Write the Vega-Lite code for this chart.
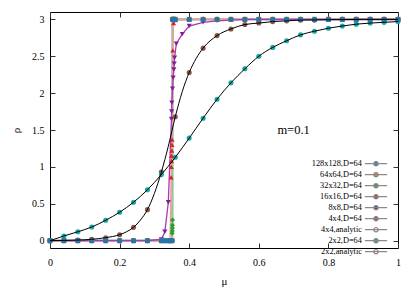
{
  "$schema": "https://vega.github.io/schema/vega-lite/v6.json",
  "width": 348,
  "height": 236,
  "autosize": {"type": "none"},
  "padding": {"left": 50, "top": 12, "right": 17, "bottom": 43},
  "config": {
    "view": {"stroke": "#000", "strokeWidth": 1},
    "font": "Liberation Serif",
    "axis": {"labelFont": "Liberation Serif", "titleFont": "Liberation Serif", "labelColor": "#000", "titleColor": "#000", "tickColor": "#333", "titleFontWeight": "normal", "grid": false, "domain": false, "labelFlush": false}
  },
  "datasets": {"d": [
    {"series": "64x64,D=64", "mu": 0, "rho": 0},
    {"series": "64x64,D=64", "mu": 0.04, "rho": 0},
    {"series": "64x64,D=64", "mu": 0.08, "rho": 0},
    {"series": "64x64,D=64", "mu": 0.12, "rho": 0},
    {"series": "64x64,D=64", "mu": 0.16, "rho": 0},
    {"series": "64x64,D=64", "mu": 0.2, "rho": 0},
    {"series": "64x64,D=64", "mu": 0.24, "rho": 0},
    {"series": "64x64,D=64", "mu": 0.28, "rho": 0},
    {"series": "64x64,D=64", "mu": 0.32, "rho": 0},
    {"series": "64x64,D=64", "mu": 0.33, "rho": 0},
    {"series": "64x64,D=64", "mu": 0.34, "rho": 0},
    {"series": "64x64,D=64", "mu": 0.346, "rho": 0},
    {"series": "64x64,D=64", "mu": 0.351, "rho": 0},
    {"series": "64x64,D=64", "mu": 0.352, "rho": 3},
    {"series": "64x64,D=64", "mu": 0.354, "rho": 3},
    {"series": "64x64,D=64", "mu": 0.356, "rho": 3},
    {"series": "64x64,D=64", "mu": 0.36, "rho": 3},
    {"series": "64x64,D=64", "mu": 0.4, "rho": 3},
    {"series": "64x64,D=64", "mu": 0.44, "rho": 3},
    {"series": "64x64,D=64", "mu": 0.48, "rho": 3},
    {"series": "64x64,D=64", "mu": 0.52, "rho": 3},
    {"series": "64x64,D=64", "mu": 0.56, "rho": 3},
    {"series": "64x64,D=64", "mu": 0.6, "rho": 3},
    {"series": "64x64,D=64", "mu": 0.64, "rho": 3},
    {"series": "64x64,D=64", "mu": 0.68, "rho": 3},
    {"series": "64x64,D=64", "mu": 0.72, "rho": 3},
    {"series": "64x64,D=64", "mu": 0.76, "rho": 3},
    {"series": "64x64,D=64", "mu": 0.8, "rho": 3},
    {"series": "64x64,D=64", "mu": 0.84, "rho": 3},
    {"series": "64x64,D=64", "mu": 0.88, "rho": 3},
    {"series": "64x64,D=64", "mu": 0.92, "rho": 3},
    {"series": "64x64,D=64", "mu": 0.96, "rho": 3},
    {"series": "64x64,D=64", "mu": 1, "rho": 3},
    {"series": "128x128,D=64", "mu": 0, "rho": 0},
    {"series": "128x128,D=64", "mu": 0.04, "rho": 0},
    {"series": "128x128,D=64", "mu": 0.08, "rho": 0},
    {"series": "128x128,D=64", "mu": 0.12, "rho": 0},
    {"series": "128x128,D=64", "mu": 0.16, "rho": 0},
    {"series": "128x128,D=64", "mu": 0.2, "rho": 0},
    {"series": "128x128,D=64", "mu": 0.24, "rho": 0},
    {"series": "128x128,D=64", "mu": 0.28, "rho": 0},
    {"series": "128x128,D=64", "mu": 0.32, "rho": 0},
    {"series": "128x128,D=64", "mu": 0.33, "rho": 0},
    {"series": "128x128,D=64", "mu": 0.34, "rho": 0},
    {"series": "128x128,D=64", "mu": 0.346, "rho": 0},
    {"series": "128x128,D=64", "mu": 0.351, "rho": 0},
    {"series": "128x128,D=64", "mu": 0.352, "rho": 3},
    {"series": "128x128,D=64", "mu": 0.354, "rho": 3},
    {"series": "128x128,D=64", "mu": 0.356, "rho": 3},
    {"series": "128x128,D=64", "mu": 0.36, "rho": 3},
    {"series": "128x128,D=64", "mu": 0.4, "rho": 3},
    {"series": "128x128,D=64", "mu": 0.44, "rho": 3},
    {"series": "128x128,D=64", "mu": 0.48, "rho": 3},
    {"series": "128x128,D=64", "mu": 0.52, "rho": 3},
    {"series": "128x128,D=64", "mu": 0.56, "rho": 3},
    {"series": "128x128,D=64", "mu": 0.6, "rho": 3},
    {"series": "128x128,D=64", "mu": 0.64, "rho": 3},
    {"series": "128x128,D=64", "mu": 0.68, "rho": 3},
    {"series": "128x128,D=64", "mu": 0.72, "rho": 3},
    {"series": "128x128,D=64", "mu": 0.76, "rho": 3},
    {"series": "128x128,D=64", "mu": 0.8, "rho": 3},
    {"series": "128x128,D=64", "mu": 0.84, "rho": 3},
    {"series": "128x128,D=64", "mu": 0.88, "rho": 3},
    {"series": "128x128,D=64", "mu": 0.92, "rho": 3},
    {"series": "128x128,D=64", "mu": 0.96, "rho": 3},
    {"series": "128x128,D=64", "mu": 1, "rho": 3},
    {"series": "32x32,D=64", "mu": 0, "rho": 0},
    {"series": "32x32,D=64", "mu": 0.04, "rho": 0},
    {"series": "32x32,D=64", "mu": 0.08, "rho": 0},
    {"series": "32x32,D=64", "mu": 0.12, "rho": 0},
    {"series": "32x32,D=64", "mu": 0.16, "rho": 0},
    {"series": "32x32,D=64", "mu": 0.2, "rho": 0},
    {"series": "32x32,D=64", "mu": 0.24, "rho": 0},
    {"series": "32x32,D=64", "mu": 0.28, "rho": 0},
    {"series": "32x32,D=64", "mu": 0.32, "rho": 0},
    {"series": "32x32,D=64", "mu": 0.33, "rho": 0},
    {"series": "32x32,D=64", "mu": 0.34, "rho": 0},
    {"series": "32x32,D=64", "mu": 0.346, "rho": 0},
    {"series": "32x32,D=64", "mu": 0.35, "rho": 0},
    {"series": "32x32,D=64", "mu": 0.351, "rho": 0.1},
    {"series": "32x32,D=64", "mu": 0.3513, "rho": 0.13},
    {"series": "32x32,D=64", "mu": 0.3516, "rho": 0.17},
    {"series": "32x32,D=64", "mu": 0.3519, "rho": 0.21},
    {"series": "32x32,D=64", "mu": 0.3522, "rho": 0.28},
    {"series": "32x32,D=64", "mu": 0.353, "rho": 3},
    {"series": "32x32,D=64", "mu": 0.356, "rho": 3},
    {"series": "32x32,D=64", "mu": 0.36, "rho": 3},
    {"series": "32x32,D=64", "mu": 0.4, "rho": 3},
    {"series": "32x32,D=64", "mu": 0.44, "rho": 3},
    {"series": "32x32,D=64", "mu": 0.48, "rho": 3},
    {"series": "32x32,D=64", "mu": 0.52, "rho": 3},
    {"series": "32x32,D=64", "mu": 0.56, "rho": 3},
    {"series": "32x32,D=64", "mu": 0.6, "rho": 3},
    {"series": "32x32,D=64", "mu": 0.64, "rho": 3},
    {"series": "32x32,D=64", "mu": 0.68, "rho": 3},
    {"series": "32x32,D=64", "mu": 0.72, "rho": 3},
    {"series": "32x32,D=64", "mu": 0.76, "rho": 3},
    {"series": "32x32,D=64", "mu": 0.8, "rho": 3},
    {"series": "32x32,D=64", "mu": 0.84, "rho": 3},
    {"series": "32x32,D=64", "mu": 0.88, "rho": 3},
    {"series": "32x32,D=64", "mu": 0.92, "rho": 3},
    {"series": "32x32,D=64", "mu": 0.96, "rho": 3},
    {"series": "32x32,D=64", "mu": 1, "rho": 3},
    {"series": "16x16,D=64", "mu": 0, "rho": 0},
    {"series": "16x16,D=64", "mu": 0.04, "rho": 0},
    {"series": "16x16,D=64", "mu": 0.08, "rho": 0},
    {"series": "16x16,D=64", "mu": 0.12, "rho": 0},
    {"series": "16x16,D=64", "mu": 0.16, "rho": 0},
    {"series": "16x16,D=64", "mu": 0.2, "rho": 0},
    {"series": "16x16,D=64", "mu": 0.24, "rho": 0},
    {"series": "16x16,D=64", "mu": 0.28, "rho": 0},
    {"series": "16x16,D=64", "mu": 0.32, "rho": 0},
    {"series": "16x16,D=64", "mu": 0.33, "rho": 0},
    {"series": "16x16,D=64", "mu": 0.34, "rho": 0},
    {"series": "16x16,D=64", "mu": 0.345, "rho": 0.005},
    {"series": "16x16,D=64", "mu": 0.348, "rho": 0.86},
    {"series": "16x16,D=64", "mu": 0.3485, "rho": 1.0},
    {"series": "16x16,D=64", "mu": 0.349, "rho": 1.08},
    {"series": "16x16,D=64", "mu": 0.3495, "rho": 1.15},
    {"series": "16x16,D=64", "mu": 0.35, "rho": 1.22},
    {"series": "16x16,D=64", "mu": 0.3505, "rho": 1.3},
    {"series": "16x16,D=64", "mu": 0.351, "rho": 1.37},
    {"series": "16x16,D=64", "mu": 0.353, "rho": 2.58},
    {"series": "16x16,D=64", "mu": 0.355, "rho": 2.95},
    {"series": "16x16,D=64", "mu": 0.36, "rho": 2.99},
    {"series": "16x16,D=64", "mu": 0.4, "rho": 3},
    {"series": "16x16,D=64", "mu": 0.44, "rho": 3},
    {"series": "16x16,D=64", "mu": 0.48, "rho": 3},
    {"series": "16x16,D=64", "mu": 0.52, "rho": 3},
    {"series": "16x16,D=64", "mu": 0.56, "rho": 3},
    {"series": "16x16,D=64", "mu": 0.6, "rho": 3},
    {"series": "16x16,D=64", "mu": 0.64, "rho": 3},
    {"series": "16x16,D=64", "mu": 0.68, "rho": 3},
    {"series": "16x16,D=64", "mu": 0.72, "rho": 3},
    {"series": "16x16,D=64", "mu": 0.76, "rho": 3},
    {"series": "16x16,D=64", "mu": 0.8, "rho": 3},
    {"series": "16x16,D=64", "mu": 0.84, "rho": 3},
    {"series": "16x16,D=64", "mu": 0.88, "rho": 3},
    {"series": "16x16,D=64", "mu": 0.92, "rho": 3},
    {"series": "16x16,D=64", "mu": 0.96, "rho": 3},
    {"series": "16x16,D=64", "mu": 1, "rho": 3},
    {"series": "8x8,D=64", "mu": 0, "rho": 0},
    {"series": "8x8,D=64", "mu": 0.04, "rho": 0},
    {"series": "8x8,D=64", "mu": 0.08, "rho": 0},
    {"series": "8x8,D=64", "mu": 0.12, "rho": 0},
    {"series": "8x8,D=64", "mu": 0.16, "rho": 0},
    {"series": "8x8,D=64", "mu": 0.2, "rho": 0},
    {"series": "8x8,D=64", "mu": 0.24, "rho": 0},
    {"series": "8x8,D=64", "mu": 0.28, "rho": 0.002},
    {"series": "8x8,D=64", "mu": 0.32, "rho": 0.015},
    {"series": "8x8,D=64", "mu": 0.33, "rho": 0.12},
    {"series": "8x8,D=64", "mu": 0.34, "rho": 0.52},
    {"series": "8x8,D=64", "mu": 0.349, "rho": 1.65},
    {"series": "8x8,D=64", "mu": 0.3495, "rho": 1.75},
    {"series": "8x8,D=64", "mu": 0.35, "rho": 1.87},
    {"series": "8x8,D=64", "mu": 0.352, "rho": 2.06},
    {"series": "8x8,D=64", "mu": 0.354, "rho": 2.21},
    {"series": "8x8,D=64", "mu": 0.356, "rho": 2.32},
    {"series": "8x8,D=64", "mu": 0.357, "rho": 2.4},
    {"series": "8x8,D=64", "mu": 0.358, "rho": 2.48},
    {"series": "8x8,D=64", "mu": 0.363, "rho": 2.67},
    {"series": "8x8,D=64", "mu": 0.38, "rho": 2.8},
    {"series": "8x8,D=64", "mu": 0.4, "rho": 2.91},
    {"series": "8x8,D=64", "mu": 0.44, "rho": 2.96},
    {"series": "8x8,D=64", "mu": 0.48, "rho": 2.98},
    {"series": "8x8,D=64", "mu": 0.52, "rho": 2.99},
    {"series": "8x8,D=64", "mu": 0.56, "rho": 3},
    {"series": "8x8,D=64", "mu": 0.6, "rho": 3},
    {"series": "8x8,D=64", "mu": 0.64, "rho": 3},
    {"series": "8x8,D=64", "mu": 0.68, "rho": 3},
    {"series": "8x8,D=64", "mu": 0.72, "rho": 3},
    {"series": "8x8,D=64", "mu": 0.76, "rho": 3},
    {"series": "8x8,D=64", "mu": 0.8, "rho": 3},
    {"series": "8x8,D=64", "mu": 0.84, "rho": 3},
    {"series": "8x8,D=64", "mu": 0.88, "rho": 3},
    {"series": "8x8,D=64", "mu": 0.92, "rho": 3},
    {"series": "8x8,D=64", "mu": 0.96, "rho": 3},
    {"series": "8x8,D=64", "mu": 1, "rho": 3},
    {"series": "4x4,D=64", "mu": 0, "rho": 0},
    {"series": "4x4,D=64", "mu": 0.04, "rho": 0.003},
    {"series": "4x4,D=64", "mu": 0.08, "rho": 0.008},
    {"series": "4x4,D=64", "mu": 0.12, "rho": 0.018},
    {"series": "4x4,D=64", "mu": 0.16, "rho": 0.04},
    {"series": "4x4,D=64", "mu": 0.2, "rho": 0.08},
    {"series": "4x4,D=64", "mu": 0.24, "rho": 0.18},
    {"series": "4x4,D=64", "mu": 0.28, "rho": 0.42},
    {"series": "4x4,D=64", "mu": 0.32, "rho": 0.93},
    {"series": "4x4,D=64", "mu": 0.36, "rho": 1.68},
    {"series": "4x4,D=64", "mu": 0.4, "rho": 2.28},
    {"series": "4x4,D=64", "mu": 0.44, "rho": 2.61},
    {"series": "4x4,D=64", "mu": 0.48, "rho": 2.78},
    {"series": "4x4,D=64", "mu": 0.52, "rho": 2.87},
    {"series": "4x4,D=64", "mu": 0.56, "rho": 2.93},
    {"series": "4x4,D=64", "mu": 0.6, "rho": 2.95},
    {"series": "4x4,D=64", "mu": 0.64, "rho": 2.97},
    {"series": "4x4,D=64", "mu": 0.68, "rho": 2.98},
    {"series": "4x4,D=64", "mu": 0.72, "rho": 2.99},
    {"series": "4x4,D=64", "mu": 0.76, "rho": 2.99},
    {"series": "4x4,D=64", "mu": 0.8, "rho": 3},
    {"series": "4x4,D=64", "mu": 0.84, "rho": 3},
    {"series": "4x4,D=64", "mu": 0.88, "rho": 3},
    {"series": "4x4,D=64", "mu": 0.92, "rho": 3},
    {"series": "4x4,D=64", "mu": 0.96, "rho": 3},
    {"series": "4x4,D=64", "mu": 1, "rho": 3},
    {"series": "4x4,analytic", "mu": 0, "rho": 0},
    {"series": "4x4,analytic", "mu": 0.04, "rho": 0.003},
    {"series": "4x4,analytic", "mu": 0.08, "rho": 0.008},
    {"series": "4x4,analytic", "mu": 0.12, "rho": 0.018},
    {"series": "4x4,analytic", "mu": 0.16, "rho": 0.04},
    {"series": "4x4,analytic", "mu": 0.2, "rho": 0.08},
    {"series": "4x4,analytic", "mu": 0.22, "rho": 0.12},
    {"series": "4x4,analytic", "mu": 0.24, "rho": 0.18},
    {"series": "4x4,analytic", "mu": 0.26, "rho": 0.28},
    {"series": "4x4,analytic", "mu": 0.28, "rho": 0.42},
    {"series": "4x4,analytic", "mu": 0.3, "rho": 0.64},
    {"series": "4x4,analytic", "mu": 0.32, "rho": 0.93},
    {"series": "4x4,analytic", "mu": 0.34, "rho": 1.28},
    {"series": "4x4,analytic", "mu": 0.36, "rho": 1.68},
    {"series": "4x4,analytic", "mu": 0.38, "rho": 2.02},
    {"series": "4x4,analytic", "mu": 0.4, "rho": 2.28},
    {"series": "4x4,analytic", "mu": 0.42, "rho": 2.47},
    {"series": "4x4,analytic", "mu": 0.44, "rho": 2.61},
    {"series": "4x4,analytic", "mu": 0.48, "rho": 2.78},
    {"series": "4x4,analytic", "mu": 0.52, "rho": 2.87},
    {"series": "4x4,analytic", "mu": 0.56, "rho": 2.93},
    {"series": "4x4,analytic", "mu": 0.6, "rho": 2.95},
    {"series": "4x4,analytic", "mu": 0.64, "rho": 2.97},
    {"series": "4x4,analytic", "mu": 0.68, "rho": 2.98},
    {"series": "4x4,analytic", "mu": 0.72, "rho": 2.99},
    {"series": "4x4,analytic", "mu": 0.8, "rho": 2.995},
    {"series": "4x4,analytic", "mu": 0.9, "rho": 3},
    {"series": "4x4,analytic", "mu": 1, "rho": 3},
    {"series": "2x2,D=64", "mu": 0, "rho": 0},
    {"series": "2x2,D=64", "mu": 0.04, "rho": 0.063},
    {"series": "2x2,D=64", "mu": 0.08, "rho": 0.12},
    {"series": "2x2,D=64", "mu": 0.12, "rho": 0.185},
    {"series": "2x2,D=64", "mu": 0.16, "rho": 0.276},
    {"series": "2x2,D=64", "mu": 0.2, "rho": 0.385},
    {"series": "2x2,D=64", "mu": 0.24, "rho": 0.52},
    {"series": "2x2,D=64", "mu": 0.28, "rho": 0.69},
    {"series": "2x2,D=64", "mu": 0.32, "rho": 0.895},
    {"series": "2x2,D=64", "mu": 0.36, "rho": 1.13},
    {"series": "2x2,D=64", "mu": 0.4, "rho": 1.39},
    {"series": "2x2,D=64", "mu": 0.44, "rho": 1.66},
    {"series": "2x2,D=64", "mu": 0.48, "rho": 1.917},
    {"series": "2x2,D=64", "mu": 0.52, "rho": 2.14},
    {"series": "2x2,D=64", "mu": 0.56, "rho": 2.33},
    {"series": "2x2,D=64", "mu": 0.6, "rho": 2.5},
    {"series": "2x2,D=64", "mu": 0.64, "rho": 2.62},
    {"series": "2x2,D=64", "mu": 0.68, "rho": 2.71},
    {"series": "2x2,D=64", "mu": 0.72, "rho": 2.79},
    {"series": "2x2,D=64", "mu": 0.76, "rho": 2.84},
    {"series": "2x2,D=64", "mu": 0.8, "rho": 2.88},
    {"series": "2x2,D=64", "mu": 0.84, "rho": 2.91},
    {"series": "2x2,D=64", "mu": 0.88, "rho": 2.935},
    {"series": "2x2,D=64", "mu": 0.92, "rho": 2.95},
    {"series": "2x2,D=64", "mu": 0.96, "rho": 2.96},
    {"series": "2x2,D=64", "mu": 1, "rho": 2.97},
    {"series": "2x2,analytic", "mu": 0, "rho": 0},
    {"series": "2x2,analytic", "mu": 0.04, "rho": 0.063},
    {"series": "2x2,analytic", "mu": 0.08, "rho": 0.12},
    {"series": "2x2,analytic", "mu": 0.12, "rho": 0.185},
    {"series": "2x2,analytic", "mu": 0.16, "rho": 0.276},
    {"series": "2x2,analytic", "mu": 0.2, "rho": 0.385},
    {"series": "2x2,analytic", "mu": 0.24, "rho": 0.52},
    {"series": "2x2,analytic", "mu": 0.28, "rho": 0.69},
    {"series": "2x2,analytic", "mu": 0.32, "rho": 0.895},
    {"series": "2x2,analytic", "mu": 0.36, "rho": 1.13},
    {"series": "2x2,analytic", "mu": 0.4, "rho": 1.39},
    {"series": "2x2,analytic", "mu": 0.44, "rho": 1.66},
    {"series": "2x2,analytic", "mu": 0.48, "rho": 1.917},
    {"series": "2x2,analytic", "mu": 0.52, "rho": 2.14},
    {"series": "2x2,analytic", "mu": 0.56, "rho": 2.33},
    {"series": "2x2,analytic", "mu": 0.6, "rho": 2.5},
    {"series": "2x2,analytic", "mu": 0.64, "rho": 2.62},
    {"series": "2x2,analytic", "mu": 0.68, "rho": 2.71},
    {"series": "2x2,analytic", "mu": 0.72, "rho": 2.79},
    {"series": "2x2,analytic", "mu": 0.76, "rho": 2.84},
    {"series": "2x2,analytic", "mu": 0.8, "rho": 2.88},
    {"series": "2x2,analytic", "mu": 0.84, "rho": 2.91},
    {"series": "2x2,analytic", "mu": 0.88, "rho": 2.935},
    {"series": "2x2,analytic", "mu": 0.92, "rho": 2.95},
    {"series": "2x2,analytic", "mu": 0.96, "rho": 2.96},
    {"series": "2x2,analytic", "mu": 1, "rho": 2.97}
  ]},
  "data": {"name": "d"},
  "resolve": {"axis": {"x": "independent", "y": "independent"}},
  "layer": [
    {
      "transform": [{"filter": {"field": "series", "equal": "128x128,D=64"}}],
      "mark": {"type": "line", "interpolate": "linear", "strokeWidth": 2.6},
      "encoding": {
        "x": {"field": "mu", "type": "quantitative", "scale": {"domain": [0, 1]},
          "axis": {"values": [0, 0.2, 0.4, 0.6, 0.8, 1], "format": "~g", "title": "μ", "tickSize": -5, "labelPadding": 14, "labelFontSize": 10, "titleFontSize": 11, "titlePadding": 8}},
        "y": {"field": "rho", "type": "quantitative", "scale": {"domain": [-0.1, 3.1], "zero": false, "nice": false},
          "axis": {"values": [0, 0.5, 1, 1.5, 2, 2.5, 3], "format": "~g", "title": "ρ", "tickSize": -5, "labelPadding": 11, "labelFontSize": 10, "titleFontSize": 11, "titlePadding": 10}},
        "stroke": {"field": "series", "type": "nominal",
          "scale": {"domain": ["128x128,D=64", "64x64,D=64", "32x32,D=64", "16x16,D=64", "8x8,D=64", "4x4,analytic", "2x2,analytic"],
                    "range": ["#a3bdd6", "#ffb77a", "#8ccf8c", "#f29c9c", "#a83ab0", "#000000", "#000000"]},
          "legend": null}
      }
    },
    {
      "transform": [{"filter": {"field": "series", "oneOf": ["64x64,D=64", "32x32,D=64", "16x16,D=64", "8x8,D=64"]}}],
      "mark": {"type": "line", "interpolate": "linear", "strokeWidth": 1.3},
      "encoding": {
        "x": {"field": "mu", "type": "quantitative", "axis": null},
        "y": {"field": "rho", "type": "quantitative", "axis": null},
        "stroke": {"field": "series", "type": "nominal", "legend": null}
      }
    },
    {
      "transform": [{"filter": {"field": "series", "oneOf": ["128x128,D=64", "64x64,D=64", "32x32,D=64", "16x16,D=64", "8x8,D=64", "4x4,D=64", "2x2,D=64"]}}],
      "mark": {"type": "point", "filled": true, "opacity": 1, "size": 26},
      "encoding": {
        "x": {"field": "mu", "type": "quantitative", "axis": null},
        "y": {"field": "rho", "type": "quantitative", "axis": null},
        "order": {"field": "series", "sort": "descending"},
        "fill": {"field": "series", "type": "nominal",
          "scale": {"domain": ["128x128,D=64", "64x64,D=64", "32x32,D=64", "16x16,D=64", "8x8,D=64", "4x4,D=64", "4x4,analytic", "2x2,D=64", "2x2,analytic"],
                    "range": ["#1f77b4", "#ff7f0e", "#2ca02c", "#d62728", "#821c98", "#8c564b", "transparent", "#18a8a8", "transparent"]},
          "legend": {
            "title": null, "orient": "none", "legendX": 321.5, "legendY": 147.2, "padding": 0, "rowPadding": 0,
            "symbolSize": 55, "symbolStrokeWidth": 1.2,
            "symbolType": "M-3,0H3M0.6,0A0.6,0.6,0,1,1,-0.6,0A0.6,0.6,0,1,1,0.6,0Z", "symbolStrokeColor": "#8a8a8a",
            "labelOffset": -18.6, "labelAlign": "right", "labelBaseline": "middle",
            "labelFont": "Liberation Serif", "labelFontSize": 8.3, "labelColor": "#000",
            "encode": {"symbols": {
              "size": {"value": 55},
              "shape": {"value": {"expr": "['M-3,0H3M0.6,0A0.6,0.6,0,1,1,-0.6,0A0.6,0.6,0,1,1,0.6,0Z','M-3,0H3M-0.55,-0.55H0.55V0.55H-0.55Z','M-3,0H3M0,-0.6L0.55,0L0,0.6L-0.55,0Z','M-3,0H3M0,-0.65L0.65,0.5L-0.65,0.5Z','M-3,0H3M0,0.65L0.65,-0.5L-0.65,-0.5Z','M0.55,0A0.55,0.55,0,1,1,-0.55,0A0.55,0.55,0,1,1,0.55,0Z','M-3,0H3','M0.6,0A0.6,0.6,0,1,1,-0.6,0A0.6,0.6,0,1,1,0.6,0Z','M-3,0H3'][indexof(['128x128,D=64','64x64,D=64','32x32,D=64','16x16,D=64','8x8,D=64','4x4,D=64','4x4,analytic','2x2,D=64','2x2,analytic'], datum.value)] || 'M-3,0H3M0.6,0A0.6,0.6,0,1,1,-0.6,0A0.6,0.6,0,1,1,0.6,0Z'"}},
              "stroke": {"value": {"expr": "['#a3bdd6','#ffb77a','#8ccf8c','#f29c9c','#a83ab0','#8c564b','#000000','#0f7f7f','#000000'][indexof(['128x128,D=64','64x64,D=64','32x32,D=64','16x16,D=64','8x8,D=64','4x4,D=64','4x4,analytic','2x2,D=64','2x2,analytic'], datum.value)] || '#8a8a8a'"}},
              "opacity": {"value": 1}
            }}
          }},
        "shape": {"field": "series", "type": "nominal",
          "scale": {"domain": ["128x128,D=64", "64x64,D=64", "32x32,D=64", "16x16,D=64", "8x8,D=64", "4x4,D=64", "2x2,D=64"],
                    "range": ["circle", "square", "diamond", "triangle-up", "triangle-down", "circle", "circle"]},
          "legend": null}
      }
    },
    {
      "transform": [{"filter": {"field": "series", "oneOf": ["4x4,analytic", "2x2,analytic"]}}],
      "mark": {"type": "line", "interpolate": "monotone", "strokeWidth": 1},
      "encoding": {
        "x": {"field": "mu", "type": "quantitative", "axis": null},
        "y": {"field": "rho", "type": "quantitative", "axis": null},
        "stroke": {"field": "series", "type": "nominal", "legend": null}
      }
    },
    {
      "data": {"values": [{"note": "m=0.1"}]},
      "mark": {"type": "text", "font": "Liberation Serif", "fontSize": 12.5, "align": "center", "baseline": "middle", "color": "#000"},
      "encoding": {
        "text": {"field": "note"},
        "x": {"datum": 0.7, "type": "quantitative",
          "axis": {"orient": "top", "values": [0, 0.2, 0.4, 0.6, 0.8, 1], "labels": false, "title": null, "tickSize": -5}},
        "y": {"datum": 1.5, "type": "quantitative",
          "axis": {"orient": "right", "values": [0, 0.5, 1, 1.5, 2, 2.5, 3], "labels": false, "title": null, "tickSize": -5}}
      }
    }
  ]
}
